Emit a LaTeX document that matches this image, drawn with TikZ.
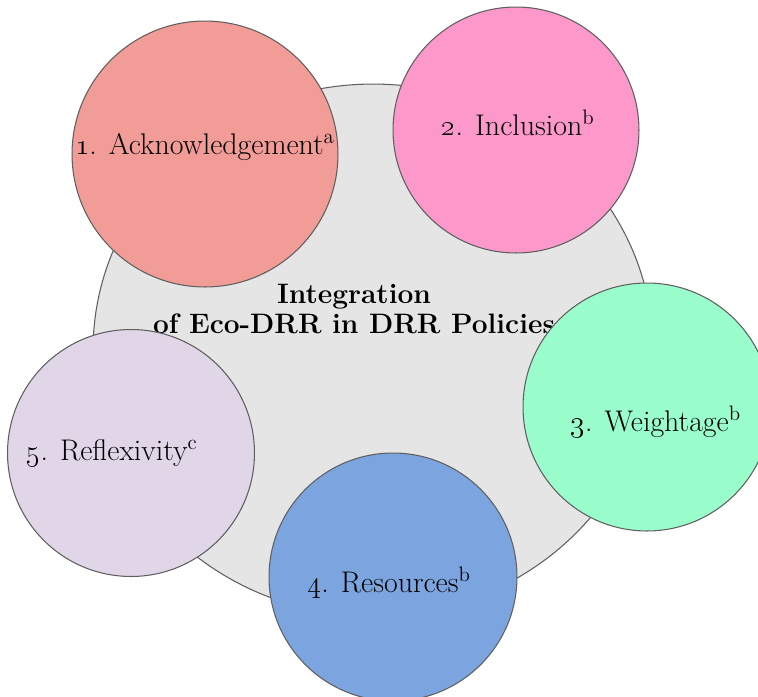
\documentclass[tikz,border=0pt]{standalone}
\usetikzlibrary{shapes.geometric,calc}

\definecolor{coregrey}{RGB}{229,229,229}
\definecolor{rimgrey}{RGB}{95,95,95}
\definecolor{ackred}{RGB}{241,156,150}
\definecolor{inclpink}{RGB}{252,152,202}
\definecolor{weightmint}{RGB}{153,253,204}
\definecolor{resblue}{RGB}{124,165,224}
\definecolor{refllilac}{RGB}{224,214,232}

\begin{document}
\begin{tikzpicture}[x=0.02cm,y=-0.02cm,
	bubble/.style={circle,draw=rimgrey,line width=0.6pt,minimum size=#1},
	txt/.style={font=\fontsize{17}{20}\selectfont}]
	\useasboundingbox (0,0) rectangle (758,697);

	% central disc and its title
	\node[ellipse,draw=rimgrey,fill=coregrey,line width=0.6pt,
		minimum width=11.2cm,minimum height=10.64cm] (core) at (373,350) {};
	\node[font=\bfseries\fontsize{16}{17}\selectfont,align=center] (title) at (354,309)
		{Integration\\of Eco-DRR in DRR Policies};

	% the five steps
	\node[bubble=5.32cm,fill=ackred]     (ack)    at (205,154) {};
	\node[bubble=4.92cm,fill=inclpink]   (incl)   at (516,130) {};
	\node[bubble=4.96cm,fill=weightmint] (weight) at (647,407) {};
	\node[bubble=4.96cm,fill=resblue]    (res)    at (393,577) {};
	\node[bubble=4.94cm,fill=refllilac]  (refl)   at (131,453) {};

	\node[txt] (acktxt)    at ($(ack)+(0,-7)$)     {\oldstylenums{1}. Acknowledgement\textsuperscript{a}};
	\node[txt] (incltxt)   at ($(incl)+(2,-7)$)    {\oldstylenums{2}. Inclusion\textsuperscript{b}};
	\node[txt] (weighttxt) at ($(weight)+(9,15)$)  {\oldstylenums{3}. Weightage\textsuperscript{b}};
	\node[txt] (restxt)    at ($(res)+(-4,6)$)     {\oldstylenums{4}. Resources\textsuperscript{b}};
	\node[txt] (refltxt)   at ($(refl)+(-19,0)$)   {\oldstylenums{5}. Reflexivity\textsuperscript{c}};
\end{tikzpicture}
\end{document}
